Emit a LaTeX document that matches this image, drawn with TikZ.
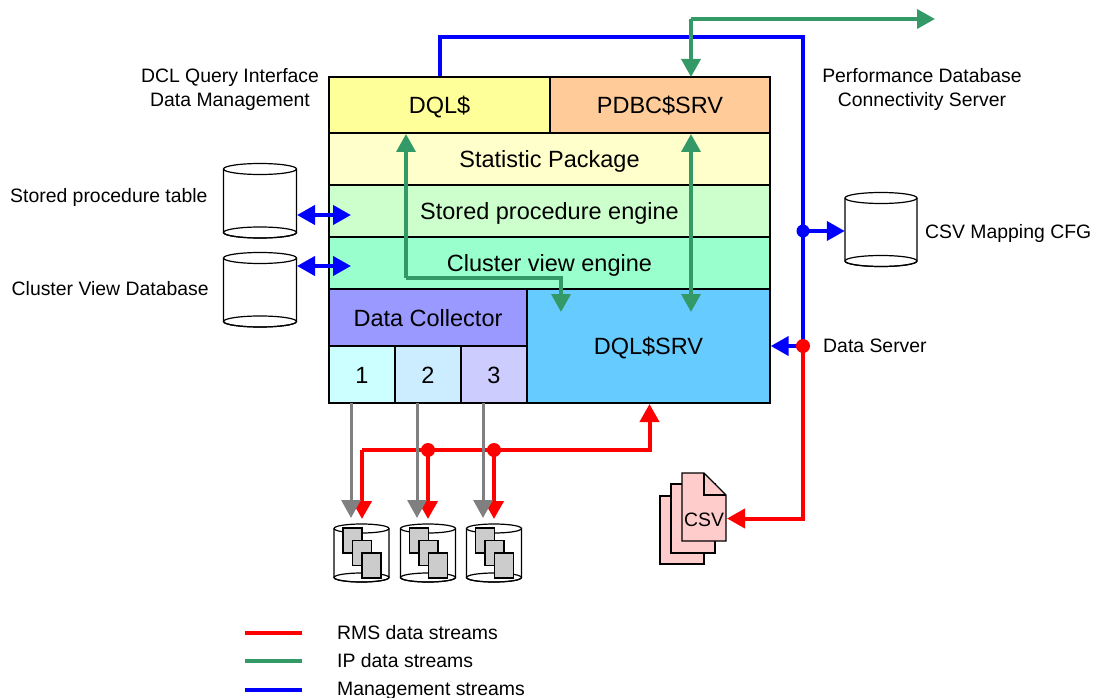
\documentclass[tikz,border=0pt]{standalone}
\usepackage{fontspec}
\setmainfont{Liberation Sans}
\usetikzlibrary{arrows.meta,calc}
\definecolor{gr}{HTML}{339966}
\definecolor{gy}{HTML}{808080}
\definecolor{bl}{HTML}{0000FF}
\definecolor{rd}{HTML}{FF0000}
\definecolor{cDql}{HTML}{FFFF99}
\definecolor{cPdbc}{HTML}{FFCC99}
\definecolor{cStat}{HTML}{FFFFCC}
\definecolor{cStored}{HTML}{CCFFCC}
\definecolor{cCluster}{HTML}{99FFCC}
\definecolor{cColl}{HTML}{9999FF}
\definecolor{cOne}{HTML}{CCFFFF}
\definecolor{cTwo}{HTML}{CCECFF}
\definecolor{cThree}{HTML}{CCCCFF}
\definecolor{cSrv}{HTML}{66CCFF}
\definecolor{cCsv}{HTML}{FFCCCC}
\definecolor{cDoc}{HTML}{CCCCCC}
\tikzset{
  box/.style={draw=black,line width=1.4pt,inner sep=0pt,font=\fontsize{23.5}{28}\selectfont,text=black,text height=17pt,text depth=0pt},
  lab/.style={inner sep=0pt,font=\fontsize{19.4}{24}\selectfont,align=center},
  tipA/.style={-{Triangle[length=18pt,width=19pt]}},
  tipB/.style={{Triangle[length=18pt,width=19pt]}-{Triangle[length=18pt,width=19pt]}},
  bluel/.style={draw=bl,line width=4pt,line join=miter},
  greenl/.style={draw=gr,line width=3.6pt,line join=miter},
  redl/.style={draw=rd,line width=4pt,line join=miter},
  greyl/.style={draw=gy,line width=3pt},
  sheet/.style={draw=black,line width=1.2pt,fill=cCsv},
  dot/.style={circle,fill=#1,inner sep=0pt,minimum size=14pt},
  cylbody/.style={draw=black,line width=1.2pt,fill=white},
}
% cylinder: name, x left, x right, y top, y bottom, y radius
\newcommand{\mycyl}[6]{%
  \node[inner sep=0pt,minimum width=#3pt-#2pt,minimum height=#5pt-#4pt] (#1) at ({(#2+#3)/2},{(#4+#5)/2}) {};
  \draw[cylbody] (#2,#4) -- (#2,#5) arc[start angle=180,end angle=360,x radius={(#3-#2)/2},y radius=-#6] -- (#3,#4);
  \draw[cylbody,fill=none] ({(#2+#3)/2},#4) ellipse[x radius={(#3-#2)/2},y radius=#6];
  \draw[cylbody,fill=none] ({(#2+#3)/2},#5) ellipse[x radius={(#3-#2)/2},y radius=#6];
}
\newcommand{\mydocs}[1]{%
  \foreach \dx/\dy in {9/528,18.5/540.5,28/553}{
    \draw[draw=black,line width=1.2pt,fill=cDoc] ({#1+\dx},\dy) rectangle ({#1+\dx+19},{\dy+25});
  }
}
\begin{document}
\begin{tikzpicture}[x=1pt,y=-1pt]
\useasboundingbox (0,0) rectangle (1093,698);
% stacked boxes
\node[box,fill=cDql,minimum width=221pt,minimum height=56pt] (dql) at (439.5,105) {DQL\$};
\node[box,fill=cPdbc,minimum width=220pt,minimum height=56pt] (pdbc) at (660,105) {PDBC\$SRV};
\node[box,fill=cStat,minimum width=441pt,minimum height=52pt] (stat) at (549.5,159) {Statistic Package};
\node[box,fill=cStored,minimum width=441pt,minimum height=52pt] (stored) at (549.5,211) {Stored procedure engine};
\node[box,fill=cCluster,minimum width=441pt,minimum height=52pt] (cluster) at (549.5,263) {Cluster view engine};
\node[box,fill=cSrv,minimum width=243pt,minimum height=114pt] (srv) at (648.5,346) {DQL\$SRV};
\node[box,fill=cColl,minimum width=198pt,minimum height=57pt] (collector) at (428,317.5) {Data Collector};
\node[box,fill=cOne,minimum width=66pt,minimum height=57pt] (c1) at (362,374.5) {1};
\node[box,fill=cTwo,minimum width=66pt,minimum height=57pt] (c2) at (428,374.5) {2};
\node[box,fill=cThree,minimum width=66pt,minimum height=57pt] (c3) at (494,374.5) {3};
% cylinders
\mycyl{cylA}{223.5}{296.5}{169}{232.5}{5.5}
\mycyl{cylB}{223.5}{296.5}{258}{321.5}{5.5}
\mycyl{cylC}{845}{917}{198}{261}{5.5}
\mycyl{dbA}{334}{389}{528.5}{577.5}{4.5}
\mycyl{dbB}{400.5}{455.5}{528.5}{577.5}{4.5}
\mycyl{dbC}{466.5}{521.5}{528.5}{577.5}{4.5}
\mydocs{334}\mydocs{400.5}\mydocs{466.5}
% CSV document stack
\draw[sheet] (660,496) rectangle (704,564);
\draw[sheet] (671,484) rectangle (715,553);
\draw[sheet] (682,473) -- (704,473) -- (726,495) -- (726,541) -- (682,541) -- cycle;
\draw[draw=black,line width=1.2pt] (704,473) -- (704,495) -- (726,495);
\node[lab,minimum width=44pt,minimum height=46pt] (csv) at (704,519.5) {CSV};
% labels
\node[lab] (lDcl) at (230,89) {DCL Query Interface\\Data Management};
\node[lab] (lPerf) at (922,89) {Performance Database\\Connectivity Server};
\node[lab,anchor=west] (lSp) at (10,197) {Stored procedure table};
\node[lab,anchor=west] (lCv) at (11.5,289) {Cluster View Database};
\node[lab,anchor=west] (lMap) at (925,233) {CSV Mapping CFG};
\node[lab,anchor=west] (lData) at (823,346) {Data Server};
% junctions
\coordinate (bTL) at (439.5,37);
\coordinate (bTR) at (803,37);
\coordinate (jMap) at (803,231);
\coordinate (jSrv) at (803,346);
\coordinate (jCsv) at (803,518.5);
\coordinate (gUp) at (691,19);
\coordinate (gEnd) at (935,19);
\coordinate (pdbcIn) at (691,77);
\coordinate (pdbcOut) at (691,134);
\coordinate (srvG) at (691,312);
\coordinate (dqlOut) at (406,134);
\coordinate (gBendA) at (406,278);
\coordinate (gBendB) at (561,278);
\coordinate (srvG2) at (561,312);
\coordinate (rBus) at (649.5,450);
\coordinate (rTip) at (649.5,404);
\coordinate (rL) at (362,450);
\coordinate (j2) at (428,450);
\coordinate (j3) at (494,450);
\coordinate (sA) at (297,215);
\coordinate (sB) at (351,215);
\coordinate (vA) at (297,266);
\coordinate (vB) at (351,266);
\coordinate (csvTip) at (727,518.5);
% blue
\draw[bluel] (dql.north) -- (bTL) -- (bTR) -- (jSrv);
\draw[bluel,tipA] (jMap) -- (cylC.west |- jMap);
\draw[bluel,tipA] (jSrv) -- (srv.east |- jSrv);
\draw[bluel,tipB] (sA) -- (sB);
\draw[bluel,tipB] (vA) -- (vB);
\node[dot=bl,minimum size=13pt] (dMap) at (jMap) {};
% green
\draw[greenl,tipA] (gUp) -- (gEnd);
\draw[greenl,tipA] (gUp) -- (pdbcIn);
\draw[greenl,tipB] (pdbcOut) -- (srvG);
\draw[greenl,tipA] (gBendA) -- (dqlOut);
\draw[greenl,tipA] (gBendA) -- (gBendB) -- (srvG2);
% red
\draw[redl,tipA] (jSrv) -- (jCsv) -- (csvTip);
\draw[redl,tipA] (rL) -- (rBus) -- (rTip);
\draw[redl,tipA] (rL) -- (362,519);
\draw[redl,tipA] (j2) -- (428,519);
\draw[redl,tipA] (j3) -- (494,519);
\node[dot=rd] (d2) at (j2) {};
\node[dot=rd] (d3) at (j3) {};
\node[dot=rd] (dSrv) at (jSrv) {};
% grey
\draw[greyl,tipA] (351,403) -- (351,518);
\draw[greyl,tipA] (417,403) -- (417,518);
\draw[greyl,tipA] (483,403) -- (483,518);
% legend
\coordinate (k1a) at (245,633); \coordinate (k1b) at (302,633);
\coordinate (k2a) at (245,661); \coordinate (k2b) at (302,661);
\coordinate (k3a) at (245,690); \coordinate (k3b) at (302,690);
\draw[redl] (k1a) -- (k1b);
\draw[greenl] (k2a) -- (k2b);
\draw[bluel] (k3a) -- (k3b);
\node[lab,anchor=west] (t1) at (337,633) {RMS data streams};
\node[lab,anchor=west] (t2) at (337,661) {IP data streams};
\node[lab,anchor=west] (t3) at (337,691) {Management streams};
\end{tikzpicture}
\end{document}
